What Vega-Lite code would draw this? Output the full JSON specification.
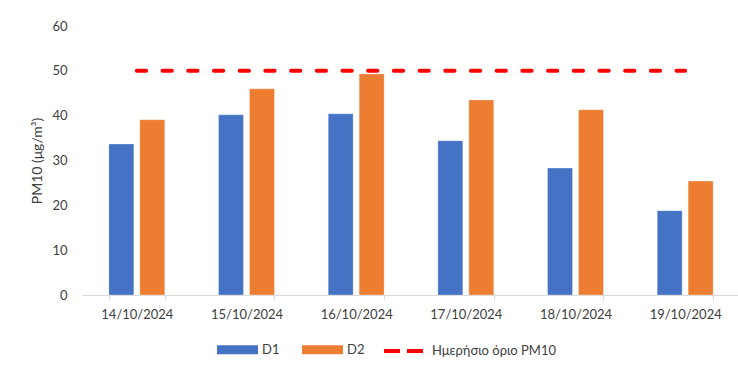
{
  "$schema": "https://vega.github.io/schema/vega-lite/v6.json",
  "width": 658,
  "height": 269,
  "autosize": {"type": "none"},
  "padding": {"left": 82, "top": 26, "right": 0, "bottom": 70},
  "background": "white",
  "config": {
    "view": {"stroke": null},
    "font": "Lato",
    "axis": {"labelFont": "Lato", "titleFont": "Lato", "labelColor": "#595959", "titleColor": "#595959", "labelFontSize": 13, "titleFontSize": 14, "titleFontWeight": "normal", "grid": false},
    "legend": {"labelFont": "Lato", "labelFontSize": 13, "labelColor": "#404040"}
  },
  "datasets": {
    "bars": [
      {"date": "14/10/2024", "series": "D1", "value": 33.7},
      {"date": "14/10/2024", "series": "D2", "value": 39.1},
      {"date": "15/10/2024", "series": "D1", "value": 40.2},
      {"date": "15/10/2024", "series": "D2", "value": 46.0},
      {"date": "16/10/2024", "series": "D1", "value": 40.4},
      {"date": "16/10/2024", "series": "D2", "value": 49.3},
      {"date": "17/10/2024", "series": "D1", "value": 34.4},
      {"date": "17/10/2024", "series": "D2", "value": 43.5},
      {"date": "18/10/2024", "series": "D1", "value": 28.3},
      {"date": "18/10/2024", "series": "D2", "value": 41.3},
      {"date": "19/10/2024", "series": "D1", "value": 18.8},
      {"date": "19/10/2024", "series": "D2", "value": 25.4}
    ],
    "limit": [
      {"date": "14/10/2024", "name": "Ημερήσιο όριο PM10", "limit": 50},
      {"date": "15/10/2024", "name": "Ημερήσιο όριο PM10", "limit": 50},
      {"date": "16/10/2024", "name": "Ημερήσιο όριο PM10", "limit": 50},
      {"date": "17/10/2024", "name": "Ημερήσιο όριο PM10", "limit": 50},
      {"date": "18/10/2024", "name": "Ημερήσιο όριο PM10", "limit": 50},
      {"date": "19/10/2024", "name": "Ημερήσιο όριο PM10", "limit": 50}
    ]
  },
  "layer": [
    {
      "data": {"name": "bars"},
      "mark": {"type": "bar", "stroke": "white", "strokeWidth": 0.6, "strokeOpacity": 0.5},
      "encoding": {
        "x": {
          "field": "date", "type": "nominal", "sort": null,
          "scale": {"paddingInner": 0.49, "paddingOuter": 0.245},
          "axis": {"title": null, "labelAngle": 0, "domainColor": "#d9d9d9", "tickColor": "#d9d9d9", "tickSize": 5, "tickBand": "extent", "labelPadding": 8, "labelColor": "#404040"}
        },
        "xOffset": {"field": "series", "type": "nominal", "scale": {"paddingInner": 0.194, "paddingOuter": 0}},
        "y": {
          "field": "value", "type": "quantitative",
          "scale": {"domain": [0, 60]},
          "axis": {"title": "PM10 (μg/m³)", "values": [0, 10, 20, 30, 40, 50, 60], "domain": false, "ticks": false, "labelPadding": 15, "titlePadding": 7, "labelColor": "#404040", "titleColor": "#404040"}
        },
        "color": {
          "field": "series", "type": "nominal",
          "scale": {"domain": ["D1", "D2"], "range": ["#4472C4", "#ED7D31"]},
          "legend": {"title": null, "orient": "none", "direction": "horizontal", "legendX": 135, "legendY": 303, "symbolType": "M-1,-0.22H1V0.22H-1Z", "symbolSize": 1681, "symbolStrokeWidth": 0, "labelOffset": 4, "columnPadding": 22}
        }
      }
    },
    {
      "data": {"name": "limit"},
      "mark": {"type": "line", "strokeWidth": 4, "strokeDash": [9.3, 16.4], "strokeCap": "round"},
      "encoding": {
        "x": {"field": "date", "type": "nominal", "sort": null},
        "y": {"field": "limit", "type": "quantitative"},
        "stroke": {
          "field": "name", "type": "nominal",
          "scale": {"range": ["#FF0000"]},
          "legend": {"title": null, "orient": "none", "direction": "horizontal", "legendX": 300, "legendY": 303, "symbolType": "stroke", "symbolSize": 1600, "symbolStrokeWidth": 4, "symbolDash": [16, 7], "labelOffset": 6}
        }
      }
    }
  ]
}
